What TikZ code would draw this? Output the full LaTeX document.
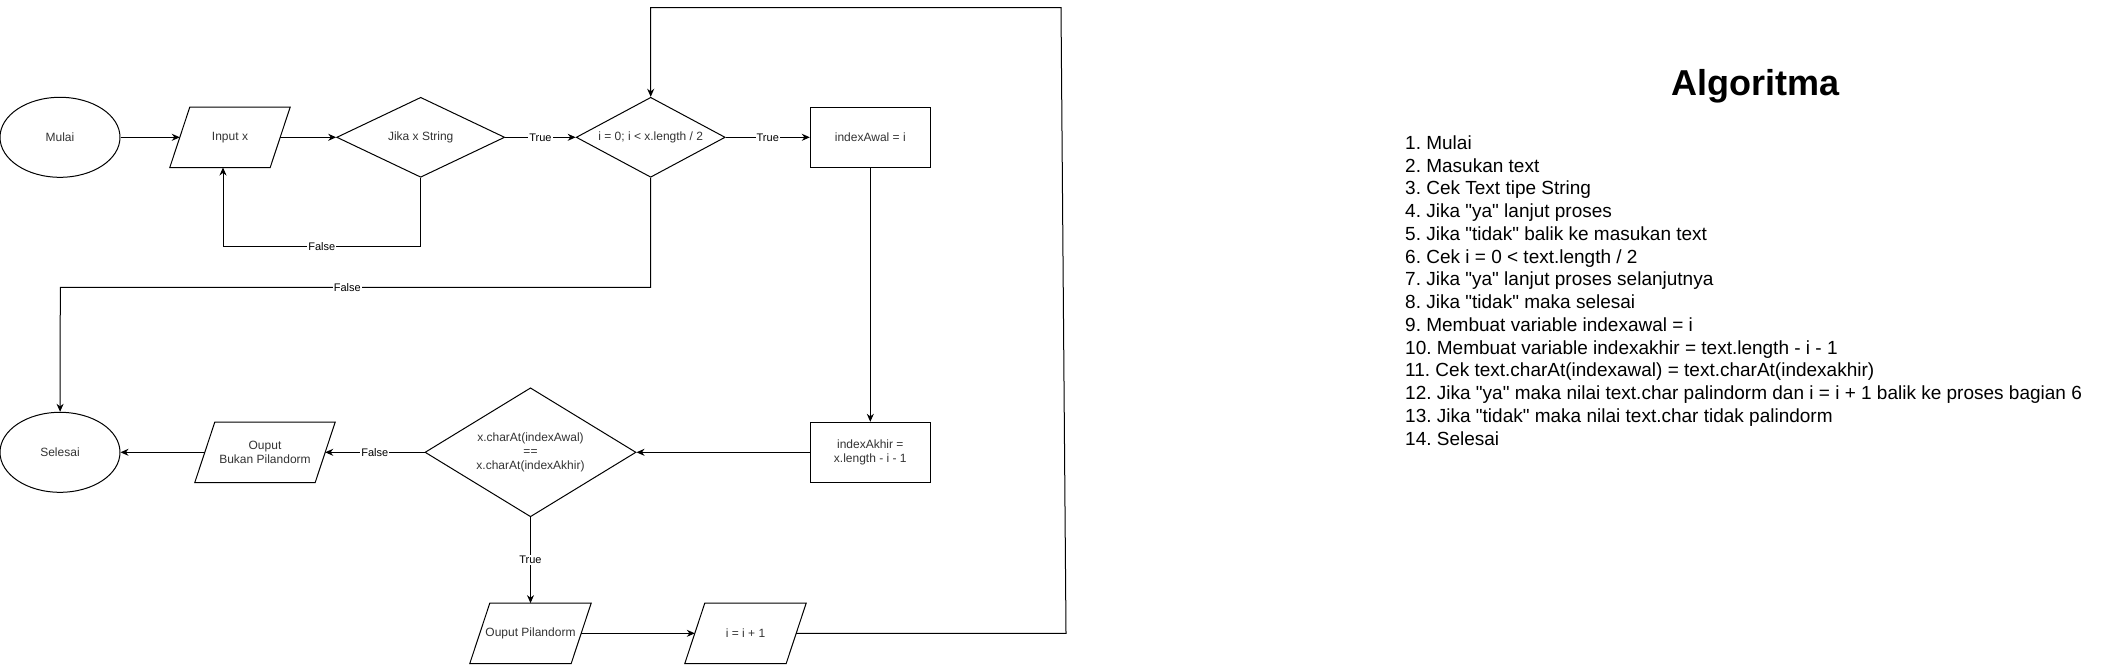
\documentclass[tikz,border=0pt]{standalone}
\usepackage{fontspec}
\setmainfont{Liberation Sans}
\usetikzlibrary{shapes.geometric,arrows.meta}
\definecolor{ntext}{HTML}{333333}
\newcommand{\qq}{\textquotedbl{}}
\frenchspacing
\begin{document}
\begin{tikzpicture}[x=1pt,y=-1pt,
  every node/.style={font=\fontsize{12}{14.4}\selectfont, text=ntext},
  shp/.style={draw=black, line width=1pt},
  term/.style={shp, ellipse, minimum width=120pt, minimum height=80pt, inner sep=0pt},
  dec/.style={shp, diamond, inner sep=0pt, align=center},
  proc/.style={shp, rectangle, minimum width=120pt, minimum height=60pt, inner sep=0pt, align=center},
  io/.style={minimum width=100pt, minimum height=60pt, inner sep=0pt, align=center},
  conn/.style={line width=1pt, -{Stealth[length=8pt,width=7pt]}},
  plain/.style={line width=1pt},
  lbl/.style={fill=white, inner sep=1pt, text=black, font=\fontsize{11}{13}\selectfont},
  listtxt/.style={inner sep=0pt, anchor=base west, text=black, font=\fontsize{19}{22}\selectfont},
]
\useasboundingbox (0,0) rectangle (2106,664);

% top row
\node[term] (mulai) at (60,137.3) {Mulai};
\node[io] (inp) at (230,137.3) {Input x};
\node[dec, shape aspect=2.1, minimum width=168pt, minimum height=80pt] (jika) at (420.7,137.3) {Jika x String};
\node[dec, shape aspect=1.86, minimum width=149pt, minimum height=80pt] (loop) at (650.7,137.3) {i = 0; i < x.length / 2};
\node[proc] (awal) at (870.3,137.3) {indexAwal = i};

% middle row
\node[term] (selesai) at (60,452.3) {Selesai};
\node[io, minimum width=120pt] (bukan) at (265,452.3) {Ouput\\Bukan Pilandorm};
\node[dec, shape aspect=1.636, minimum width=211pt, minimum height=129pt] (cek) at (530.5,452.3) {x.charAt(indexAwal)\\==\\x.charAt(indexAkhir)};
\node[proc] (akhir) at (870.3,452.3) {indexAkhir =\\x.length - i - 1};

% bottom row
\node[io, minimum width=101pt] (outp) at (530.5,633.3) {Ouput Pilandorm};
\node[io, minimum width=101pt] (inc) at (745.5,633.3) {i = i + 1};

% parallelogram outlines
\foreach \n in {inp,bukan,outp,inc}
  \draw[plain] ([xshift=10pt]\n.north west) -- ([xshift=10pt]\n.north east)
     -- ([xshift=-10pt]\n.south east) -- ([xshift=-10pt]\n.south west) -- cycle;

% helper coordinates
\coordinate (f1) at (223,246.7);
\coordinate (f2) at (60.3,287.3);
\coordinate (r1) at (1066,633.3);
\coordinate (r2) at (1061,7.6);

% connectors
\draw[conn] (mulai) -- (inp);
\draw[conn] (inp) -- (jika);
\draw[conn] (jika) -- node[lbl]{True} (loop);
\draw[conn] (loop) -- node[lbl]{True} (awal);
\draw[conn] (jika.south) |- node[lbl, pos=0.75]{False} (f1) -- (f1 |- inp.south);
\draw[conn] (loop.south) |- node[lbl, pos=0.757]{False} (f2) -- (selesai);
\draw[conn] (awal) -- (akhir);
\draw[conn] (akhir) -- (cek);
\draw[conn] (cek) -- node[lbl]{False} (bukan);
\draw[conn] (bukan) -- (selesai);
\draw[conn] (cek) -- node[lbl]{True} (outp);
\draw[conn] (outp) -- (inc);
\draw[conn] (inc) -- (r1) -- (r2) -- (r2 -| loop.north) -- (loop.north);

% algorithm text
\node[inner sep=0pt, anchor=base, text=black, font=\fontsize{36}{43}\selectfont\bfseries] (title) at (1755,95.7) {Algoritma};
\foreach \t [count=\k from 0] in {
  {1. Mulai},
  {2. Masukan text},
  {3. Cek Text tipe String},
  {4. Jika \qq ya\qq\ lanjut proses},
  {5. Jika \qq tidak\qq\ balik ke masukan text},
  {6. Cek i = 0 < text.length / 2},
  {7. Jika \qq ya\qq\ lanjut proses selanjutnya},
  {8. Jika \qq tidak\qq\ maka selesai},
  {9. Membuat variable indexawal = i},
  {10. Membuat variable indexakhir = text.length - i - 1},
  {11. Cek text.charAt(indexawal) = text.charAt(indexakhir)},
  {12. Jika \qq ya\qq\ maka nilai text.char palindorm dan i = i + 1 balik ke proses bagian 6},
  {13. Jika \qq tidak\qq\ maka nilai text.char tidak palindorm},
  {14. Selesai}}
  \node[listtxt] (l\k) at ({1405},{149.3+22.75*\k}) {\t};
\end{tikzpicture}
\end{document}
